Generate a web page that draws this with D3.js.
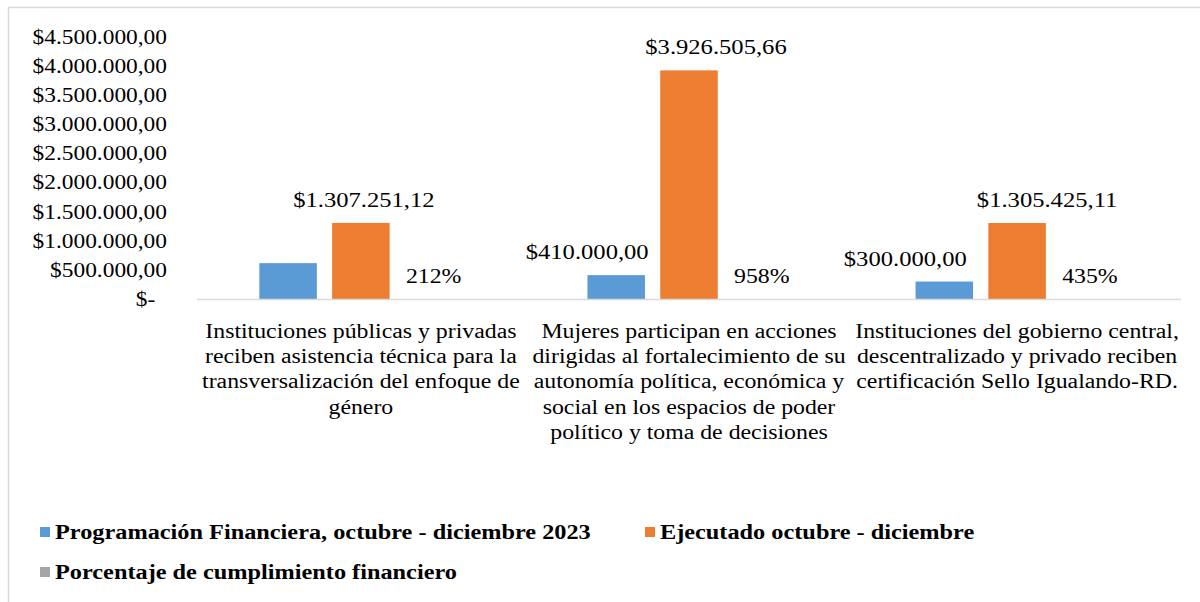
<!doctype html>
<html>
<head>
<meta charset="utf-8">
<style>
    body { margin: 0; background: #fff; }
    svg text { font-family: "Liberation Serif", "Times New Roman", serif; fill: #000; }
    .legend text { font-weight: bold; }
    .wide { transform-box: fill-box; }
</style>
<script src="https://d3js.org/d3.v7.min.js"></script>
</head>
<body>
<svg width="1200" height="602"></svg>
<script>
    // categories, one line of text per entry
    var categories = [
        ["Instituciones públicas y privadas", "reciben asistencia técnica para la", "transversalización del enfoque de", "género"],
        ["Mujeres participan en acciones", "dirigidas al fortalecimiento de su", "autonomía política, económica y", "social en los espacios de poder", "político y toma de decisiones"],
        ["Instituciones del gobierno central,", "descentralizado y privado reciben", "certificación Sello Igualando-RD."]
    ];
    var seriesNames = ["Programación Financiera, octubre - diciembre 2023", "Ejecutado octubre - diciembre", "Porcentaje de cumplimiento financiero"];
    var programado = [616000, 410000, 300000];
    var ejecutado = [1307251.12, 3926505.66, 1305425.11];
    var porcentaje = [2.12, 9.58, 4.35];
    var yTicks = [0, 500000, 1000000, 1500000, 2000000, 2500000, 3000000, 3500000, 4000000, 4500000];

    var colors = ["#5b9bd5", "#ed7d31", "#a5a5a5"];
    // per series: which labels are shown and how far they were nudged sideways in the original
    var showLabel = [[false, true, true], [true, true, true], [true, true, true]];
    var labelNudge = [[0, -29, -39], [3, 27, 30], [0, 0, 0]];

    var svg = d3.select("svg");
    var plotLeft = 197, plotRight = 1181, plotTop = 37, plotBottom = 299;

    // the original text is wider than the font's own metrics
    function stretch(sel, k, origin) {
        sel.classed("wide", true)
           .style("transform-origin", origin)
           .style("transform", "scaleX(" + k + ")");
    }

    // frame
    svg.append("rect")
       .attr("x", 8.5).attr("y", 7.5)
       .attr("width", 1200).attr("height", 700)
       .attr("fill", "none")
       .attr("stroke", "#d9d9d9")
       .attr("stroke-width", 1.5);

    var x0 = d3.scaleBand().domain(d3.range(categories.length)).range([plotLeft, plotRight])
               .paddingInner(0.381).paddingOuter(0.19);
    var x1 = d3.scaleBand().domain([0, 1, 2]).range([0, x0.bandwidth()]).paddingInner(0.21);
    var y = d3.scaleLinear().domain([0, 4500000]).range([plotBottom, plotTop]);

    function money(v) {
        if (v === 0) return "$-\u00a0\u00a0";
        var parts = v.toFixed(2).split(".");
        return "$" + parts[0].replace(/\B(?=(\d{3})+(?!\d))/g, ".") + "," + parts[1];
    }

    var yAxis = svg.append("g")
       .attr("transform", "translate(" + plotLeft + ",0)")
       .call(d3.axisLeft(y).tickValues(yTicks).tickSize(0).tickPadding(30).tickFormat(money));
    yAxis.select(".domain").remove();
    yAxis.selectAll("text").attr("font-size", "20px").attr("fill", "#000")
         .style("font-family", "'Liberation Serif', 'Times New Roman', serif");
    stretch(yAxis.selectAll("text"), 1.17, "right center");

    var series = [programado, ejecutado, porcentaje];
    var rows = [];
    categories.forEach(function(c, i) {
        series.forEach(function(s, j) {
            rows.push({cat: i, ser: j, value: s[i]});
        });
    });

    svg.selectAll(".bar")
       .data(rows)
       .enter().append("rect")
       .attr("class", "bar")
       .attr("x", function(d) { return x0(d.cat) + x1(d.ser); })
       .attr("y", function(d) { return y(d.value); })
       .attr("width", x1.bandwidth())
       .attr("height", function(d) { return plotBottom - y(d.value); })
       .attr("fill", function(d) { return colors[d.ser]; });

    // baseline
    svg.append("line")
       .attr("x1", plotLeft).attr("x2", plotRight)
       .attr("y1", plotBottom + 0.5).attr("y2", plotBottom + 0.5)
       .attr("stroke", "#d9d9d9").attr("stroke-width", 1.5);

    svg.selectAll(".lbl")
       .data(rows.filter(function(d) { return showLabel[d.ser][d.cat]; }))
       .enter().append("text")
       .attr("class", "lbl")
       .attr("x", function(d) { return x0(d.cat) + x1(d.ser) + x1.bandwidth() / 2 + labelNudge[d.ser][d.cat]; })
       .attr("y", function(d) { return y(d.value) - 16; })
       .attr("text-anchor", "middle")
       .attr("font-size", "20px")
       .text(function(d) { return d.ser === 2 ? Math.round(d.value * 100) + "%" : money(d.value); })
       .each(function(d) { stretch(d3.select(this), d.ser === 2 ? 1.19 : 1.23, "center"); });

    // category labels
    var catG = svg.selectAll(".cat")
       .data(categories)
       .enter().append("text")
       .attr("class", "cat")
       .attr("text-anchor", "middle")
       .attr("font-size", "20px");
    catG.each(function(lines, i) {
        d3.select(this).selectAll("tspan")
          .data(lines)
          .enter().append("tspan")
          .attr("x", x0(i) + x0.bandwidth() / 2)
          .attr("y", function(l, k) { return 338 + k * 25.2; })
          .text(function(l) { return l; });
    });
    stretch(catG, 1.19, "center");

    // legend
    var legendPos = [[40, 532], [645, 532], [40, 572]];
    var lg = svg.selectAll(".legend")
       .data(seriesNames)
       .enter().append("g")
       .attr("class", "legend")
       .attr("transform", function(d, i) { return "translate(" + legendPos[i][0] + "," + legendPos[i][1] + ")"; });
    lg.append("rect")
      .attr("x", 0).attr("y", -5).attr("width", 10).attr("height", 10)
      .attr("fill", function(d, i) { return colors[i]; });
    var lgText = lg.append("text")
      .attr("x", 15).attr("y", 7)
      .attr("font-size", "20px")
      .text(function(d) { return d; });
    stretch(lgText, 1.215, "left center");
</script>
</body>
</html>
